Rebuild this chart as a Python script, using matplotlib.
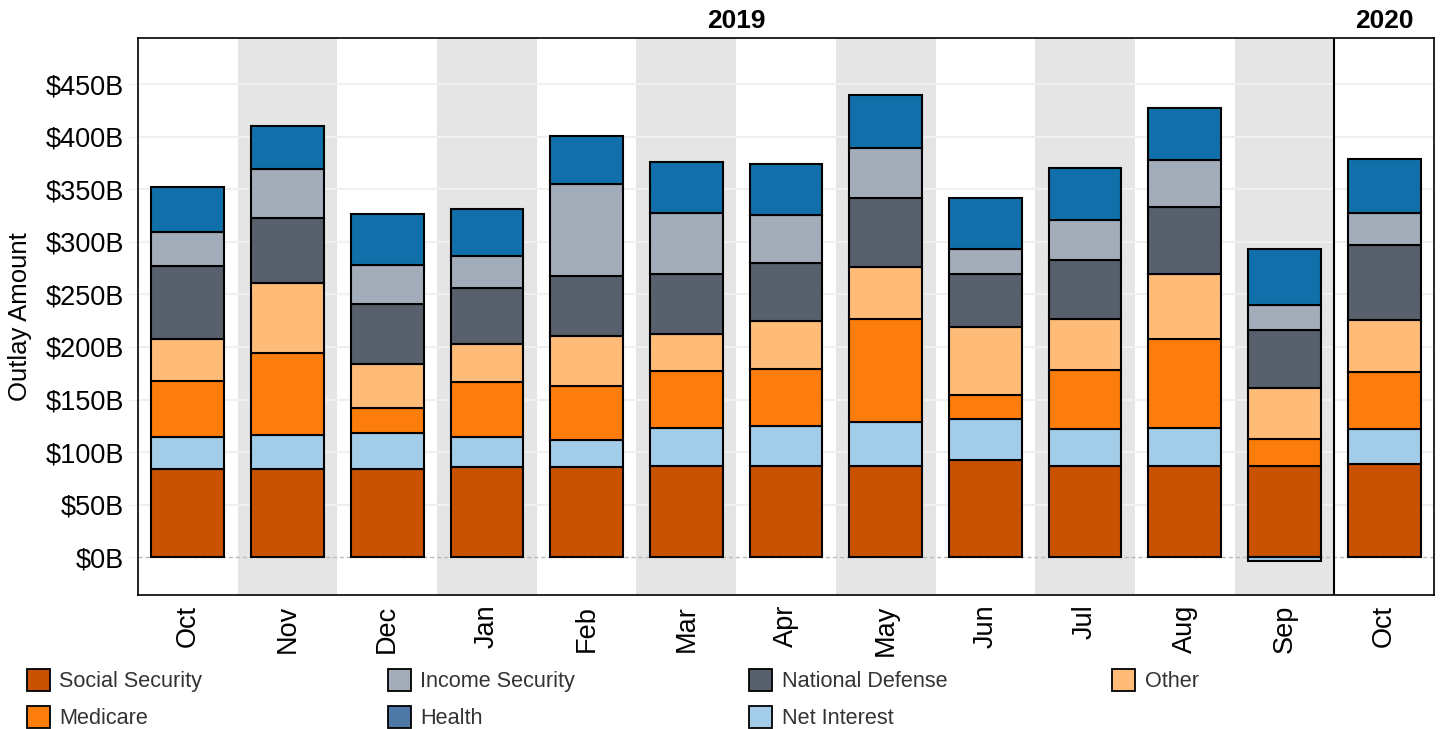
import matplotlib
matplotlib.use("Agg")
import matplotlib.pyplot as plt
import numpy as np
from matplotlib.patches import Patch

plt.rcParams['font.family'] = ['Liberation Sans', 'DejaVu Sans']

months = ["Oct", "Nov", "Dec", "Jan", "Feb", "Mar", "Apr", "May", "Jun", "Jul", "Aug", "Sep", "Oct"]
years = ["2019", "2020"]

social_security = [84, 84, 84, 86, 85.6, 86.9, 86.9, 86.9, 92.3, 86.9, 86.9, 86.9, 88.5]
net_interest    = [30.5, 32, 34, 28.6, 25.7, 36.1, 38, 41.5, 39.3, 34.6, 36.1, -3.5, 33]
medicare        = [53, 78, 24, 51.7, 51.7, 53.7, 54.6, 98, 22.8, 56.7, 84.4, 26, 54.8]
other           = [40, 66.5, 42, 36.1, 47.9, 35.5, 45.3, 49.5, 64.7, 48.2, 61.8, 48.2, 49.8]
national_defense = [69.5, 62, 57, 53.3, 56.7, 57.3, 54.9, 65.6, 50.4, 56.8, 63.8, 54.9, 70.7]
income_security = [32, 46.5, 37, 31.1, 87.9, 58.1, 46.3, 47.9, 23.8, 37.4, 44.7, 24.2, 31.1]
health          = [43, 41, 48.5, 44.7, 45, 48.5, 48.5, 50.1, 48.5, 50.1, 50.1, 53.5, 51.4]

series = [
    ("Social Security", social_security, "#c85200", "#c85200"),
    ("Net Interest", net_interest, "#a3cce9", "#a3cce9"),
    ("Medicare", medicare, "#fc7d0b", "#fc7d0b"),
    ("Other", other, "#ffbc79", "#ffbc79"),
    ("National Defense", national_defense, "#57606c", "#57606c"),
    ("Income Security", income_security, "#a3acb9", "#a3acb9"),
    ("Health", health, "#1170aa", "#4e79a7"),
]

fig = plt.figure(figsize=(14.4, 7.29), dpi=100)
ax = fig.add_axes([138/1440, 1 - 595/729, (1434 - 138)/1440, (595 - 38)/729])

n = len(months)
x = np.arange(n)

# alternating shading
for i in range(n):
    if i % 2 == 1:
        ax.axvspan(i - 0.5, i + 0.5, color="#e5e5e5", zorder=0, lw=0)

ax.set_ylim(-36, 494)
ax.set_xlim(-0.5, n - 0.5)
yticks = np.arange(0, 451, 50)
for yv in yticks:
    if yv == 0:
        ax.axhline(0, color="#bbbbbb", lw=1, ls=(0, (3, 2)), zorder=1)
    else:
        ax.axhline(yv, color="#f0f0f0", lw=1.5, zorder=1)

pos_bottom = np.zeros(n)
neg_bottom = np.zeros(n)
for name, vals, col, _ in series:
    v = np.array(vals, dtype=float)
    bottoms = np.where(v >= 0, pos_bottom, neg_bottom)
    ax.bar(x, v, bottom=bottoms, width=0.73, color=col, edgecolor="black", linewidth=1.5, zorder=3)
    pos_bottom = pos_bottom + np.where(v >= 0, v, 0)
    neg_bottom = neg_bottom + np.where(v < 0, v, 0)

ax.axvline(11.5, color="black", lw=1.5, zorder=4)

ax.set_yticks(yticks)
ax.set_yticklabels([f"${v}B" for v in yticks], fontsize=19.5)
ax.set_xticks(x)
ax.set_xticklabels(months, rotation=90, fontsize=19.5)
ax.tick_params(axis="y", length=7, color="#eeeeee", pad=3)
ax.tick_params(axis="x", length=0, pad=7)
for s in ax.spines.values():
    s.set_color("black")
    s.set_linewidth(1.2)

fig.text(20/1440, 1 - 316.5/729, "Outlay Amount", rotation=90, fontsize=18.5,
         ha="center", va="center")

ax.text(5.5, 1.018, years[0], transform=ax.get_xaxis_transform(), ha="center", va="baseline",
        fontsize=19, fontweight="bold")
ax.text(12, 1.018, years[1], transform=ax.get_xaxis_transform(), ha="center", va="baseline",
        fontsize=19, fontweight="bold")

# legend: four fixed-width columns, filled row-wise
lookup = {s[0]: s for s in series}
columns = [["Social Security", "Medicare"], ["Income Security", "Health"],
           ["National Defense", "Net Interest"], ["Other"]]
col_x = [27, 388, 749, 1112]
for cx, names in zip(col_x, columns):
    handles = [Patch(facecolor=lookup[k][3], edgecolor="black", linewidth=1.3) for k in names]
    leg = fig.legend(handles, names, loc="upper left", bbox_to_anchor=(cx/1440, 1 - 669/729),
                     ncol=1, frameon=False, fontsize=15.6, handlelength=1.05, handleheight=1.2,
                     handletextpad=0.45, labelspacing=0.62, borderpad=0, borderaxespad=0)
    for t in leg.get_texts():
        t.set_color("#333333")

fig.savefig("out.png", dpi=100)
